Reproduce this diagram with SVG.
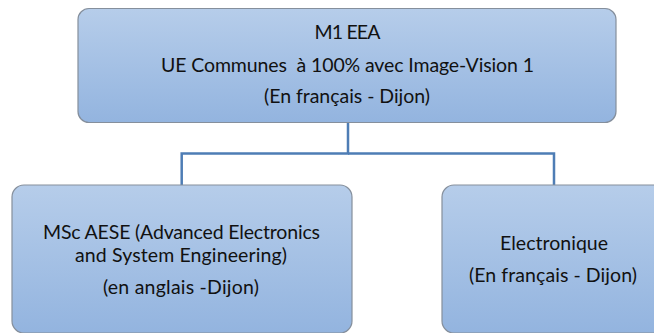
<svg xmlns="http://www.w3.org/2000/svg" width="654" height="333" viewBox="0 0 654 333">
  <style>
    .box { fill: url(#boxGrad); stroke: #858f9c; stroke-width: 1.2; }
    .lbl { font-family: Lato, "Open Sans", "Liberation Sans", sans-serif; font-size: 19.5px; fill: #111111; text-anchor: middle; }
    .conn { fill: none; stroke: #4e7db5; stroke-width: 2.5; }
  </style>
  <defs>
    <linearGradient id="boxGrad" x1="0" y1="0" x2="0" y2="1">
      <stop offset="0" stop-color="#b6cdea"/>
      <stop offset="1" stop-color="#93b4df"/>
    </linearGradient>
  </defs>
  <rect width="654" height="333" fill="#ffffff"/>
  <g id="connectors">
    <path class="conn" d="M348 122.5 V153.5 H181.7 V185"/>
    <path class="conn" d="M348 153.5 H554 V185"/>
  </g>
  <g id="node-m1">
    <rect class="box" x="78" y="8.5" width="538" height="114" rx="11"/>
    <text class="lbl" x="347.5" y="39" textLength="66">M1 EEA</text>
    <text class="lbl" x="347.5" y="72" textLength="373" xml:space="preserve">UE Communes  à 100% avec Image-Vision 1</text>
    <text class="lbl" x="347" y="103" textLength="166">(En français - Dijon)</text>
  </g>
  <g id="node-msc">
    <rect class="box" x="12" y="185" width="340" height="148" rx="12"/>
    <text class="lbl" x="181.5" y="238.5" textLength="277">MSc AESE (Advanced Electronics</text>
    <text class="lbl" x="181" y="262" textLength="212">and System Engineering)</text>
    <text class="lbl" x="181" y="294" textLength="156">(en anglais -Dijon)</text>
  </g>
  <g id="node-electronique">
    <rect class="box" x="442" y="185" width="226" height="148" rx="12"/>
    <text class="lbl" x="554" y="249.5" textLength="108">Electronique</text>
    <text class="lbl" x="553" y="282" textLength="168">(En français - Dijon)</text>
  </g>
</svg>
